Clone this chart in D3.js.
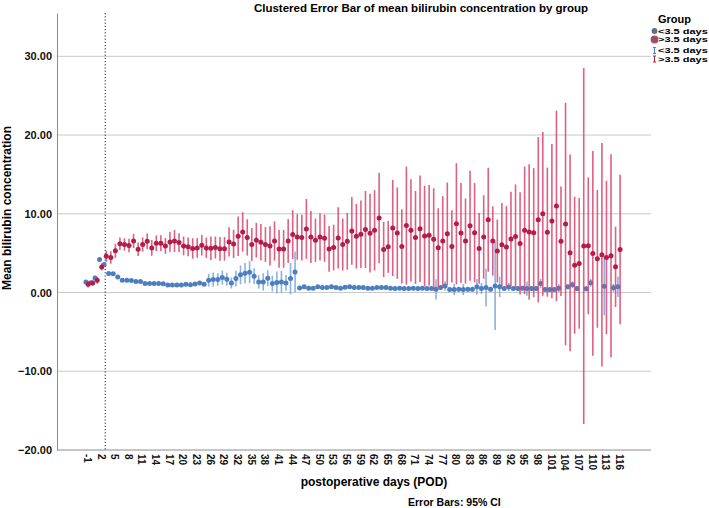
<!DOCTYPE html>
<html>
<head>
<meta charset="utf-8">
<script src="https://cdn.jsdelivr.net/npm/d3@7"></script>
<style>
body { margin: 0; background: #fff; }
svg { font-family: "Liberation Sans", Arial, sans-serif; font-weight: bold; }
</style>
</head>
<body>
<svg id="canvas" width="709" height="508"></svg>
<script>
// postoperative day categories, -1 .. 116
const days = d3.range(-1, 117);
const yTicks = [-20, -10, 0, 10, 20, 30];
const groups = ['<3.5 days', '>3.5 days'];
const cutoffDay = 3;

// <3.5 days group (blue): mean and half width of 95% CI, null = no data
const shortMean = [1.35, 1.25, 1.86, 4.19, 3.55, 2.41, 2.37, 1.98, 1.56, 1.56,
  1.52, 1.4, 1.4, 1.14, 1.14, 1.14, 1.14, 1.1, 0.97, 0.97,
  0.97, 0.97, 1.05, 1.0, 1.08, 1.2, 1.05, 1.56, 1.65, 1.65,
  1.9, 1.7, 1.2, 1.77, 2.25, 2.45, 2.58, 2.07, 1.35, 1.35,
  1.82, 1.14, 1.27, 1.35, 1.22, 1.77, 2.62, 0.59, 0.72, 0.55,
  0.55, 0.72, 0.63, 0.63, 0.72, 0.63, 0.55, 0.66, 0.72, 0.63,
  0.63, 0.63, 0.55, 0.55, 0.63, 0.63, 0.63, 0.55, 0.5, 0.55,
  0.5, 0.5, 0.55, 0.5, 0.55, 0.5, 0.5, 0.4, 0.63, 0.84,
  0.38, 0.38, 0.4, 0.38, 0.4, 0.42, 0.72, 0.5, 0.63, 0.42,
  0.84, 0.72, 0.5, 0.7, 0.5, 0.5, 0.55, 0.5, 0.5, 0.5,
  1.14, 0.38, 0.38, 0.38, 0.55, null, 0.72, 1.0, 0.5, null,
  0.47, 1.23, null, null, 0.8, null, 0.6, 0.72];
const shortCI = [0.25, 0.2, 0.3, 0.3, 0.3, 0.2, 0.2, 0.2, 0.2, 0.2,
  0.2, 0.2, 0.2, 0.2, 0.2, 0.2, 0.2, 0.2, 0.2, 0.2,
  0.2, 0.2, 0.2, 0.2, 0.2, 0.25, 0.25, 0.8, 0.9, 0.8,
  0.9, 0.8, 0.7, 1.0, 1.2, 1.3, 1.4, 1.0, 0.85, 1.1,
  1.0, 1.0, 1.4, 1.4, 1.0, 2.0, 2.6, 0.2, 0.2, 0.2,
  0.2, 0.2, 0.2, 0.2, 0.2, 0.2, 0.2, 0.2, 0.2, 0.2,
  0.2, 0.2, 0.2, 0.2, 0.2, 0.2, 0.2, 0.2, 0.2, 0.2,
  0.2, 0.2, 0.2, 0.2, 0.2, 0.2, 0.2, 1.3, 0.3, 0.6,
  0.3, 0.7, 0.3, 0.7, 0.3, 0.3, 1.0, 0.7, 2.4, 0.3,
  5.6, 1.3, 0.3, 0.5, 0.3, 0.3, 0.3, 0.9, 0.3, 0.3,
  0.6, 0.3, 0.3, 0.3, 0.5, null, 0.3, 0.4, 0.3, null,
  0.3, 0.5, null, null, 3.7, null, 0.5, 1.3];

// >3.5 days group (red)
const longMean = [1.05, 1.2, 1.56, 3.25, 4.6, 4.44, 5.3, 6.2, 6.1, 5.97,
  6.55, 5.5, 6.1, 6.5, 5.67, 6.26, 6.26, 5.92, 6.43, 6.55,
  6.34, 5.92, 5.8, 5.59, 5.67, 6.0, 5.67, 5.63, 5.71, 5.55,
  5.55, 6.43, 6.17, 7.15, 7.7, 7.0, 6.1, 6.64, 6.39, 6.1,
  5.92, 6.55, 5.54, 5.54, 6.55, 7.36, 7.06, 6.98, 8.08, 7.06,
  6.64, 7.06, 6.9, 5.54, 5.71, 6.94, 6.1, 6.5, 7.82, 7.15,
  7.4, 8.0, 7.53, 7.9, 9.47, 5.46, 5.8, 8.2, 7.55, 5.86,
  8.5, 7.9, 7.0, 8.1, 7.17, 7.26, 6.75, 5.7, 6.54, 7.47,
  5.86, 8.73, 7.55, 6.54, 8.48, 7.6, 5.6, 7.05, 9.24, 6.54,
  5.27, 6.08, 5.78, 6.8, 7.13, 6.24, 7.9, 7.68, 7.6, 9.24,
  10.0, 7.67, 9.07, 11.0, 6.5, 8.7, 5.04, 3.47, 3.7, 5.9,
  5.93, 4.96, 4.28, 4.8, 4.45, 4.66, 3.26, 5.47];
const longCI = [0.4, 0.35, 0.45, 0.45, 0.7, 0.8, 0.9, 0.8, 0.8, 0.85,
  0.9, 0.85, 0.9, 1.0, 1.0, 1.0, 1.0, 1.0, 1.25, 1.4,
  1.2, 1.2, 1.2, 1.3, 1.25, 1.3, 1.3, 1.5, 1.4, 1.5,
  1.5, 1.86, 1.8, 2.5, 2.5, 2.3, 2.1, 2.2, 2.3, 2.2,
  2.5, 2.5, 2.4, 2.4, 2.8, 3.1, 2.9, 2.9, 3.8, 3.3,
  2.75, 3.0, 3.0, 2.9, 2.9, 3.9, 3.3, 3.6, 4.3, 4.1,
  4.3, 4.9, 5.0, 5.1, 5.75, 3.5, 3.3, 6.1, 5.8, 4.7,
  7.5, 6.5, 5.9, 6.75, 6.4, 6.4, 6.5, 5.0, 5.7, 6.5,
  4.6, 7.7, 6.35, 5.4, 7.0, 6.3, 4.5, 5.3, 6.6, 4.4,
  4.0, 5.3, 5.2, 6.0, 6.6, 6.5, 8.1, 8.6, 8.2, 10.5,
  10.4, 8.2, 9.8, 12.1, 6.95, 15.4, 12.5, 8.7, 8.3, 22.6,
  8.7, 13.0, 8.75, 14.2, 9.75, 12.9, 5.1, 9.5];

const colors = {
  '<3.5 days': { point: '#4c7ec0', bar: '#7ea9dd', legend: '#5f7188' },
  '>3.5 days': { point: '#b21d4a', bar: '#d8446c', legend: '#7d5a68' }
};

const plotLeft = 57, plotRight = 651, plotTop = 13, plotBottom = 450;

let canvas = d3.select('#canvas');

let x = d3.scalePoint().domain(days).range([plotLeft + 30, plotRight - 32]);
let y = d3.scaleLinear().domain([-20, 35.5]).range([plotBottom, plotTop]);

const makeRows = (means, cis, group, offset) => {
  return days.map((d, i) => ({ day: d, mean: means[i], ci: cis[i], group: group, offset: offset }))
    .filter(r => r.mean !== null);
};
let shortRows = makeRows(shortMean, shortCI, groups[0], -1.1);
let longRows = makeRows(longMean, longCI, groups[1], 1.1);

// gridlines
canvas.append('g')
  .selectAll('line')
  .data(yTicks.filter(t => t !== -20))
  .enter()
  .append('line')
  .attr('x1', plotLeft).attr('x2', plotRight)
  .attr('y1', d => y(d)).attr('y2', d => y(d))
  .attr('stroke', '#c9c9c9').attr('stroke-width', 1);

// y axis
let yAxis = canvas.append('g')
  .attr('transform', 'translate(' + plotLeft + ',0)')
  .call(d3.axisLeft(y).tickValues(yTicks).tickFormat(d3.format('.2f')).tickSize(0).tickSizeOuter(0).tickPadding(5));
yAxis.select('.domain').attr('stroke', '#8c8c8c');
yAxis.selectAll('text').style('font-size', '11px').style('font-family', '"Liberation Sans", Arial, sans-serif').attr('fill', '#111');

// x axis
let xAxis = canvas.append('g')
  .attr('transform', 'translate(0,' + plotBottom + ')')
  .call(d3.axisBottom(x).tickValues(days.filter((d, i) => i % 3 === 0)).tickSize(0));
xAxis.select('.domain').remove();
xAxis.selectAll('text')
  .attr('transform', 'rotate(90)')
  .attr('x', 4).attr('y', 0).attr('dy', '0.36em')
  .style('text-anchor', 'start')
  .style('font-size', '10px')
  .style('font-family', '"Liberation Sans", Arial, sans-serif')
  .attr('fill', '#111');
canvas.append('line')
  .attr('x1', plotLeft).attr('x2', plotRight)
  .attr('y1', plotBottom).attr('y2', plotBottom)
  .attr('stroke', '#8c8c8c');

// reference line at the cut-off day
canvas.append('line')
  .attr('x1', x(cutoffDay)).attr('x2', x(cutoffDay))
  .attr('y1', plotTop).attr('y2', plotBottom)
  .attr('stroke', '#222').attr('stroke-width', 1)
  .attr('stroke-dasharray', '1.2,2');

const drawBars = (rows, barOpacity) => {
  canvas.append('g')
    .selectAll('line')
    .data(rows)
    .enter()
    .append('line')
    .attr('x1', d => x(d.day) + d.offset)
    .attr('x2', d => x(d.day) + d.offset)
    .attr('y1', d => y(d.mean - d.ci))
    .attr('y2', d => y(d.mean + d.ci))
    .attr('stroke', d => colors[d.group].bar)
    .attr('stroke-opacity', barOpacity)
    .attr('stroke-width', 1.6);
};
const drawPoints = (rows) => {
  canvas.append('g')
    .selectAll('circle')
    .data(rows)
    .enter()
    .append('circle')
    .attr('cx', d => x(d.day) + d.offset)
    .attr('cy', d => y(d.mean))
    .attr('r', 2.5)
    .attr('fill', d => colors[d.group].point);
};

drawBars(shortRows, 0.9);
drawPoints(shortRows);
drawBars(longRows, 0.85);
drawPoints(longRows);

// titles
canvas.append('text')
  .attr('x', 421).attr('y', 12)
  .attr('text-anchor', 'middle')
  .style('font-size', '11.5px')
  .text('Clustered Error Bar of mean bilirubin concentration by group');

canvas.append('text')
  .attr('transform', 'translate(11,208) rotate(-90)')
  .attr('text-anchor', 'middle')
  .style('font-size', '12px')
  .text('Mean bilirubin concentration');

canvas.append('text')
  .attr('x', 374).attr('y', 486)
  .attr('text-anchor', 'middle')
  .style('font-size', '12px')
  .text('postoperative days (POD)');

canvas.append('text')
  .attr('x', 408).attr('y', 506)
  .style('font-size', '10.5px')
  .text('Error Bars: 95% CI');

// legend
let legend = canvas.append('g');
legend.append('text')
  .attr('x', 658).attr('y', 23)
  .style('font-size', '11px')
  .text('Group');

const legendRows = [
  { group: groups[0], kind: 'point', y: 31 },
  { group: groups[1], kind: 'point', y: 39.5 },
  { group: groups[0], kind: 'bar', y: 50.5 },
  { group: groups[1], kind: 'bar', y: 59 }
];
legendRows.forEach(r => {
  if (r.kind === 'point') {
    legend.append('circle')
      .attr('cx', 654.5).attr('cy', r.y).attr('r', r.group === groups[1] ? 3.3 : 2.9)
      .attr('fill', colors[r.group].legend)
      .attr('stroke', r.group === groups[1] ? '#c8406a' : 'none')
      .attr('stroke-width', 1.2);
  } else {
    let c = colors[r.group].point;
    legend.append('line').attr('x1', 654.5).attr('x2', 654.5).attr('y1', r.y - 3).attr('y2', r.y + 3).attr('stroke', c);
    legend.append('line').attr('x1', 653).attr('x2', 656).attr('y1', r.y - 3).attr('y2', r.y - 3).attr('stroke', c);
    legend.append('line').attr('x1', 653).attr('x2', 656).attr('y1', r.y + 3).attr('y2', r.y + 3).attr('stroke', c);
  }
  legend.append('text')
    .attr('transform', 'translate(658,' + (r.y + 2.8) + ') scale(1,0.64)')
    .style('font-size', '11px')
    .text(r.group);
});
</script>
</body>
</html>
